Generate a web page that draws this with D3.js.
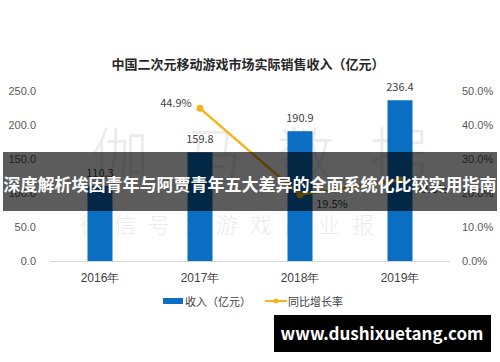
<!DOCTYPE html>
<html>
<head>
<meta charset="utf-8">
<script src="https://d3js.org/d3.v7.min.js"></script>
<style>
  body { margin: 0; background: #fff; }
  svg { display: block; font-family: "Noto Sans CJK SC", "Noto Sans", sans-serif; }
  .tick-label { font-size: 11px; fill: #595959; }
  .value { font-size: 11px; fill: #404040; }
</style>
</head>
<body>
<svg id="vis" width="500" height="362"></svg>
<script>
// data
const years = ["2016年", "2017年", "2018年", "2019年"];
const revenue = [110.3, 159.8, 190.9, 236.4];
const growthYears = ["2017年", "2018年", "2019年"];
const growth = [44.9, 19.5, 23.8];
const leftTicks = [0, 50, 100, 150, 200, 250];
const rightTicks = [0, 10, 20, 30, 40, 50];

const svg = d3.select("svg#vis");

const plot = { left: 50, right: 450, top: 91, bottom: 261 };

const x = d3.scaleBand()
  .domain(years)
  .range([plot.left, plot.right])
  .paddingInner(0.75)
  .paddingOuter(0.375);

const yLeft = d3.scaleLinear().domain([0, 250]).range([plot.bottom, plot.top]);
const yRight = d3.scaleLinear().domain([0, 50]).range([plot.bottom, plot.top]);

const blue = "#0a6fc2";
const gold = "#f2b619";

// title
svg.append("text")
  .attr("x", 248)
  .attr("y", 69)
  .attr("text-anchor", "middle")
  .style("font-size", "13px")
  .style("font-weight", "bold")
  .style("fill", "#262626")
  .text("中国二次元移动游戏市场实际销售收入（亿元）");

// watermark behind the bars
const wm = svg.append("g").style("fill", "#ebebeb");
wm.selectAll("text.big")
  .data(["伽", "马", "数", "据"])
  .enter()
  .append("text")
  .attr("class", "big")
  .attr("x", (d, i) => 120 + i * 93)
  .attr("y", 176)
  .attr("text-anchor", "middle")
  .style("font-size", "58px")
  .style("font-weight", "300")
  .text(d => d);

wm.append("text")
  .attr("x", 250)
  .attr("y", 233)
  .attr("text-anchor", "middle")
  .style("font-size", "22px")
  .style("font-weight", "300")
  .style("letter-spacing", "12px")
  .text("微信号：游戏产业报告");

// left axis labels
svg.append("g")
  .attr("transform", "translate(36,0)")
  .call(d3.axisLeft(yLeft).tickValues(leftTicks).tickSize(0).tickPadding(0).tickFormat(d3.format(".1f")))
  .call(g => g.select(".domain").remove())
  .selectAll("text")
  .attr("class", "tick-label")
  .style("font-family", null)
  .style("font-size", null);

// right axis labels
svg.append("g")
  .attr("transform", "translate(462,0)")
  .call(d3.axisRight(yRight).tickValues(rightTicks).tickSize(0).tickPadding(0).tickFormat(d => d3.format(".1f")(d) + "%"))
  .call(g => g.select(".domain").remove())
  .selectAll("text")
  .attr("class", "tick-label");

// bars
svg.append("g").selectAll("rect")
  .data(revenue)
  .enter()
  .append("rect")
  .attr("x", (d, i) => x(years[i]))
  .attr("y", d => yLeft(d))
  .attr("width", x.bandwidth())
  .attr("height", d => yLeft(0) - yLeft(d))
  .style("fill", blue);

svg.append("g").selectAll("text")
  .data(revenue)
  .enter()
  .append("text")
  .attr("class", "value")
  .attr("x", (d, i) => x(years[i]) + x.bandwidth() / 2)
  .attr("y", d => yLeft(d) - 9)
  .attr("text-anchor", "middle")
  .text(d => d3.format(".1f")(d));

// baseline
svg.append("line")
  .attr("x1", plot.left)
  .attr("x2", plot.right)
  .attr("y1", yLeft(0) + 0.5)
  .attr("y2", yLeft(0) + 0.5)
  .style("stroke", "#d9d9d9");

// x axis labels
svg.append("g")
  .attr("transform", translate(0, yLeft(0)))
  .call(d3.axisBottom(x).tickSize(0).tickPadding(12))
  .call(g => g.select(".domain").remove())
  .selectAll("text")
  .attr("class", "tick-label")
  .style("font-family", null)
  .style("font-size", "12px")
  .style("fill", "#404040");

// growth line
const cx = d => x(d) + x.bandwidth() / 2;
const line = d3.line()
  .x((d, i) => cx(growthYears[i]))
  .y(d => yRight(d));

svg.append("path")
  .datum(growth)
  .attr("d", line)
  .style("fill", "none")
  .style("stroke", gold)
  .style("stroke-width", 2.5);

svg.append("g").selectAll("circle")
  .data(growth)
  .enter()
  .append("circle")
  .attr("cx", (d, i) => cx(growthYears[i]))
  .attr("cy", d => yRight(d))
  .attr("r", 3.5)
  .style("fill", gold);

// labels: first one sits left of its point, the others right
svg.append("g").selectAll("text")
  .data(growth)
  .enter()
  .append("text")
  .attr("class", "value")
  .attr("x", (d, i) => cx(growthYears[i]) + (i === 0 ? -24 : 32))
  .attr("y", (d, i) => yRight(d) + (i === 0 ? -1 : 13))
  .attr("text-anchor", "middle")
  .text(d => d3.format(".1f")(d) + "%");

// legend
const legend = svg.append("g");
legend.append("rect")
  .attr("x", 163).attr("y", 298)
  .attr("width", 20).attr("height", 6)
  .style("fill", blue);
legend.append("text")
  .attr("x", 185).attr("y", 305.5)
  .style("font-size", "11px").style("fill", "#404040")
  .text("收入（亿元）");
legend.append("line")
  .attr("x1", 265).attr("x2", 287)
  .attr("y1", 301).attr("y2", 301)
  .style("stroke", gold).style("stroke-width", 2);
legend.append("circle")
  .attr("cx", 276).attr("cy", 301).attr("r", 2.5)
  .style("fill", gold);
legend.append("text")
  .attr("x", 288).attr("y", 305.5)
  .style("font-size", "11px").style("fill", "#404040")
  .text("同比增长率");

// dark banner across the chart
svg.append("rect")
  .attr("x", 3).attr("y", 152)
  .attr("width", 494).attr("height", 59)
  .style("fill", "rgba(0,0,0,0.64)");
svg.append("text")
  .attr("x", 250).attr("y", 191)
  .attr("text-anchor", "middle")
  .style("font-size", "17px")
  .style("font-weight", "bold")
  .style("fill", "#fff")
  .text("深度解析埃因青年与阿贾青年五大差异的全面系统化比较实用指南");

// site stamp
svg.append("rect")
  .attr("x", 274).attr("y", 315)
  .attr("width", 217).attr("height", 37)
  .style("fill", "#000");
svg.append("text")
  .attr("x", 382).attr("y", 340)
  .attr("text-anchor", "middle")
  .style("font-size", "17px")
  .style("font-weight", "bold")
  .style("fill", "#fff")
  .text("www.dushixuetang.com");

function translate(x, y) {
  return "translate(" + String(x) + "," + String(y) + ")";
}
</script>
</body>
</html>
